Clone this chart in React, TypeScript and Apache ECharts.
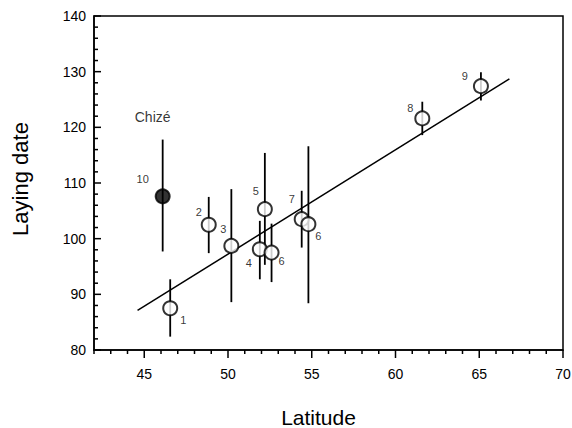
import React, { useEffect, useRef } from "react";
import * as echarts from "echarts";

const latitude = [46.55, 48.85, 50.2, 51.9, 52.2, 52.6, 54.4, 54.8, 61.6, 65.1, 46.1];
const layingDate = [87.5, 102.5, 98.7, 98.1, 105.3, 97.5, 103.5, 102.6, 121.6, 127.4, 107.6];
const errLow = [82.4, 97.4, 88.6, 92.7, 95.3, 92.2, 98.4, 88.4, 118.6, 124.8, 97.7];
const errHigh = [92.7, 107.5, 108.9, 103.2, 115.4, 102.7, 108.6, 116.6, 124.6, 129.9, 117.8];
const pointLabels = ["1", "2", "3", "4", "5", "6", "7", "6", "8", "9", "10"];
const filledPoint = [false, false, false, false, false, false, false, false, false, false, true];

const regressionX = [44.6, 66.8];
const regressionY = [87.1, 128.7];

const annotationText = ["Chizé"];
const annotationX = [45.5];
const annotationY = [121.9];

const xMajorTicks = [45, 50, 55, 60, 65, 70];
const xTickValues = [42, 43, 44, 45, 46, 47, 48, 49, 50, 51, 52, 53, 54, 55, 56, 57, 58, 59, 60, 61, 62, 63, 64, 65, 66, 67, 68, 69, 70];
const yTickValues = [80, 82, 84, 86, 88, 90, 92, 94, 96, 98, 100, 102, 104, 106, 108, 110, 112, 114, 116, 118, 120, 122, 124, 126, 128, 130, 132, 134, 136, 138, 140];

// label offsets (layout only)
const labelOffsets: number[][] = [
  [13, 12], [-10, -13], [-8, -17], [-11, 14], [-9, -18], [10, 8],
  [-10, -20], [10, 12], [-12, -10], [-16, -10], [-20, -17],
];

const FONT = "'Liberation Sans', Arial, Helvetica, sans-serif";
const X_MIN = 42;
const X_MAX = 70;
const Y_MIN = 80;
const Y_MAX = 140;

export default function App() {
  const ref = useRef<HTMLDivElement>(null);
  useEffect(() => {
    if (!ref.current) return;
    const chart = echarts.init(ref.current, null, { renderer: "svg" });
    const scatterData = latitude.map((x, i) => ({
      value: [x, layingDate[i]],
      itemStyle: {
        color: filledPoint[i] ? "#000" : "#fff",
        borderColor: "#000",
        borderWidth: 2,
      },
      label: {
        show: true,
        formatter: pointLabels[i],
        position: ["50%", "50%"],
        align: "center",
        verticalAlign: "middle",
        offset: labelOffsets[i],
        fontSize: 11,
        fontFamily: FONT,
        color: "#000",
      },
    }));
    const errData = latitude.map((x, i) => [x, errLow[i], errHigh[i]]);
    const option: any = {
      animation: false,
      backgroundColor: "#fff",
      grid: {
        left: 94,
        right: 9,
        top: 16,
        bottom: 78,
        containLabel: false,
        outerBoundsMode: "none",
        show: true,
        borderColor: "#000",
        borderWidth: 1.5,
        backgroundColor: "transparent",
      },
      xAxis: [
        {
          type: "value",
          min: X_MIN,
          max: X_MAX,
          interval: 1,
          position: "bottom",
          axisLine: { show: true, lineStyle: { color: "#000", width: 1.5 } },
          axisTick: { show: false },
          axisLabel: { show: false },
          splitLine: { show: false },
        },
        {
          type: "value",
          min: X_MIN,
          max: X_MAX,
          position: "bottom",
          axisLine: { show: false },
          axisTick: { show: false },
          axisLabel: {
            show: true,
            customValues: xMajorTicks,
            margin: 17,
            fontSize: 14,
            fontFamily: FONT,
            color: "#000",
          },
          splitLine: { show: false },
          name: "Latitude",
          nameLocation: "middle",
          nameGap: 57,
          nameTextStyle: { fontSize: 21, fontFamily: FONT, color: "#000", padding: [0, 20, 0, 0] },
        },
      ],
      yAxis: {
        type: "value",
        min: Y_MIN,
        max: Y_MAX,
        interval: 10,
        axisLine: { show: true, lineStyle: { color: "#000", width: 1.5 } },
        axisTick: { show: false },
        minorTick: { show: false },
        axisLabel: { margin: 8, fontSize: 14, fontFamily: FONT, color: "#000" },
        splitLine: { show: false },
        name: "Laying date",
        nameLocation: "middle",
        nameGap: 63,
        nameTextStyle: { fontSize: 22, fontFamily: FONT, color: "#000", padding: [0, 0, 0, 8] },
      },
      series: [
        {
          type: "custom",
          data: xTickValues.map((v) => [v, Y_MIN]),
          encode: { x: 0, y: 1 },
          clip: false,
          silent: true,
          renderItem: (params: any, api: any) => {
            const v = api.value(0);
            const p = api.coord([v, Y_MIN]);
            const len = v % 5 === 0 ? 8 : 4;
            return {
              type: "line",
              shape: { x1: p[0], y1: p[1], x2: p[0], y2: p[1] + len },
              style: { stroke: "#000", lineWidth: 1.5 },
            };
          },
          z: 5,
        },
        {
          type: "custom",
          data: yTickValues.map((v) => [X_MIN, v]),
          encode: { x: 0, y: 1 },
          clip: false,
          silent: true,
          renderItem: (params: any, api: any) => {
            const v = api.value(1);
            const p = api.coord([X_MIN, v]);
            const len = v % 10 === 0 ? 7 : 4;
            return {
              type: "line",
              shape: { x1: p[0], y1: p[1], x2: p[0] + len, y2: p[1] },
              style: { stroke: "#000", lineWidth: 1.5 },
            };
          },
          z: 5,
        },
        {
          type: "line",
          data: regressionX.map((x, i) => [x, regressionY[i]]),
          symbol: "none",
          lineStyle: { color: "#000", width: 1.5 },
          z: 1,
        },
        {
          type: "custom",
          data: errData,
          encode: { x: 0, y: [1, 2] },
          renderItem: (params: any, api: any) => {
            const x = api.value(0);
            const lo = api.coord([x, api.value(1)]);
            const hi = api.coord([x, api.value(2)]);
            return {
              type: "line",
              shape: { x1: lo[0], y1: lo[1], x2: hi[0], y2: hi[1] },
              style: { stroke: "#000", lineWidth: 1.8 },
            };
          },
          z: 2,
        },
        {
          type: "scatter",
          data: scatterData,
          symbol: "circle",
          symbolSize: 14,
          z: 3,
          emphasis: { disabled: true },
        },
        {
          type: "scatter",
          data: annotationX.map((x, i) => ({
            value: [x, annotationY[i]],
            label: {
              show: true,
              formatter: annotationText[i],
              position: ["50%", "50%"],
              align: "center",
              verticalAlign: "middle",
              fontSize: 14,
              fontFamily: FONT,
              color: "#000",
            },
          })),
          symbolSize: 1,
          itemStyle: { color: "transparent", borderWidth: 0 },
          emphasis: { disabled: true },
          z: 4,
        },
      ],
    };
    chart.setOption(option);
    return () => chart.dispose();
  }, []);
  return (
    <div
      ref={ref}
      style={{ position: "fixed", left: 0, top: 0, width: 572, height: 428, background: "#fff" }}
    />
  );
}
